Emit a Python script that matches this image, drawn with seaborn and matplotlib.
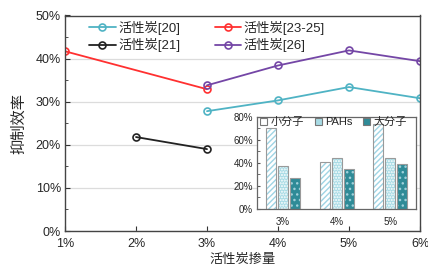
import numpy as np
import pandas as pd
import matplotlib
matplotlib.use("Agg")
import matplotlib.pyplot as plt
import matplotlib.colors as mcolors
from matplotlib.ticker import MultipleLocator, PercentFormatter
import seaborn as sns

sns.set_style("ticks")
plt.rcParams['font.family'] = ['Liberation Sans', 'Noto Sans CJK SC', 'DejaVu Sans']
plt.rcParams['hatch.linewidth'] = 1.0

# ---- main chart data ----
series_names = ["活性炭[20]", "活性炭[21]", "活性炭[23-25]", "活性炭[26]"]
dose_20 = [3, 4, 5, 6]
eff_20 = [27.8, 30.3, 33.4, 30.8]
dose_21 = [2, 3]
eff_21 = [21.8, 19.0]
dose_2325 = [1, 3]
eff_2325 = [41.7, 32.9]
dose_26 = [3, 4, 5, 6]
eff_26 = [33.8, 38.4, 41.9, 39.4]
series_colors = ["#4fb3c4", "#222222", "#ff3030", "#7446a6"]
x_ticks = [1, 2, 3, 4, 5, 6]

# ---- inset data ----
inset_cats = ["3%", "4%", "5%"]
inset_groups = ["小分子", "PAHs", "大分子"]
small_mol = [70.0, 41.0, 73.4]
pahs = [37.0, 43.9, 43.9]
large_mol = [26.6, 34.4, 38.7]

frames = []
for name, d, e in zip(series_names, [dose_20, dose_21, dose_2325, dose_26],
                      [eff_20, eff_21, eff_2325, eff_26]):
    frames.append(pd.DataFrame({"dose": d, "eff": e, "series": name}))
df = pd.concat(frames, ignore_index=True)

W, H = 428, 268
fig = plt.figure(figsize=(W / 100, H / 100), dpi=100)
ax = fig.add_axes([65 / W, (H - 231) / H, 355 / W, 215.5 / H])

ax.yaxis.grid(True, color="#dcdcdc", lw=0.9)
ax.set_axisbelow(True)
sns.lineplot(data=df, x="dose", y="eff", hue="series", hue_order=series_names,
             palette=dict(zip(series_names, series_colors)), marker="o",
             markersize=5, markerfacecolor="none", markeredgewidth=1.2,
             lw=1.3, ax=ax, legend=True)
for line, c in zip(ax.get_lines(), series_colors):
    line.set_markeredgecolor(c)

ax.set_xlim(1, 6)
ax.set_ylim(0, 50)
ax.set_xticks(x_ticks)
ax.set_xticklabels([f"{v}%" for v in x_ticks])
ax.yaxis.set_major_locator(MultipleLocator(10))
ax.yaxis.set_minor_locator(MultipleLocator(5))
ax.yaxis.set_major_formatter(PercentFormatter(decimals=0))
ax.tick_params(axis="both", which="both", direction="in", labelsize=9,
               color="#333333", length=3.5, pad=3)
ax.tick_params(axis="x", pad=5)
ax.tick_params(axis="y", which="minor", length=2.5)
for s in ax.spines.values():
    s.set_color("#444444")
    s.set_linewidth(1.0)
ax.set_xlabel("活性炭掺量", fontsize=9.5, labelpad=3)
ax.set_ylabel("抑制效率", fontsize=11, labelpad=7)

handles, labels = ax.get_legend_handles_labels()
for h, c in zip(handles, series_colors):
    h.set_markeredgecolor(c)
    h.set_markerfacecolor("none")
ax.legend(handles, labels, ncol=2, loc="upper left", bbox_to_anchor=(0.035, 1.03),
          frameon=False, fontsize=9.5, handlelength=2.0, handletextpad=0.2,
          columnspacing=2.6, labelspacing=0.25)

# ---- inset ----
iax = fig.add_axes([257 / W, (H - 209) / H, 159 / W, 92.3 / H])
rows = []
for g, vals in zip(inset_groups, [small_mol, pahs, large_mol]):
    for c, v in zip(inset_cats, vals):
        rows.append({"cat": c, "group": g, "val": v})
idf = pd.DataFrame(rows)
face = {"小分子": "#ffffff", "PAHs": "#a8dbe5", "大分子": "#2f8b97"}
sns.barplot(data=idf, x="cat", y="val", hue="group", hue_order=inset_groups,
            palette=face, width=0.67, gap=0.15, ax=iax, legend=True,
            edgecolor="#9a9a9a", linewidth=0.8, saturation=1)
hatches = {"小分子": "//////", "PAHs": "......", "大分子": "..."}
hcols = {"小分子": "#9fd4e4", "PAHs": "#ffffff", "大分子": "#9fd0da"}
n = len(inset_cats)
bars = [p for p in iax.patches][: n * len(inset_groups)]
for i, p in enumerate(bars):
    g = inset_groups[i // n]
    p.set_hatch(hatches[g])
    p._hatch_color = mcolors.to_rgba(hcols[g])
iax.set_xlim(-0.49, 2.48)
iax.set_ylim(0, 80)
iax.yaxis.set_major_locator(MultipleLocator(20))
iax.yaxis.set_minor_locator(MultipleLocator(10))
iax.yaxis.set_major_formatter(PercentFormatter(decimals=0))
iax.tick_params(axis="y", which="both", direction="in", labelsize=7,
                length=2.5, color="#555555", pad=3)
iax.tick_params(axis="x", length=0, labelsize=7, pad=6)
iax.set_xlabel("")
iax.set_ylabel("")
for s in iax.spines.values():
    s.set_color("#666666")
    s.set_linewidth(0.9)
ih, il = iax.get_legend_handles_labels()
for h, g in zip(ih, inset_groups):
    h.set_hatch(None)
    h.set_edgecolor("#777777")
iax.legend(ih, il, ncol=3, loc="upper left", bbox_to_anchor=(-0.02, 1.07),
           frameon=False, fontsize=8, handlelength=0.6, handleheight=0.6,
           handletextpad=0.3, columnspacing=1.0, borderaxespad=0.2)

fig.savefig("out.png", dpi=100)
